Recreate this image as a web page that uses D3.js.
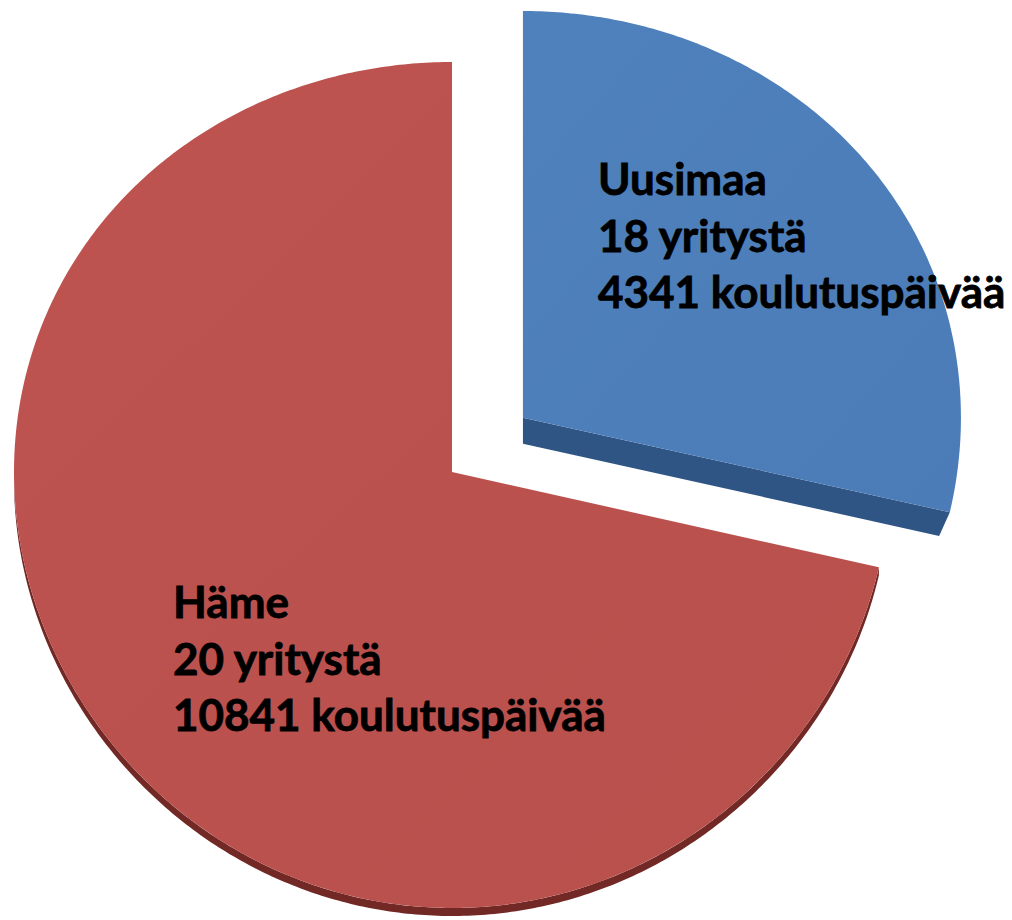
<!DOCTYPE html>
<html>
<head>
<meta charset="utf-8">
<script src="https://cdn.jsdelivr.net/npm/d3@7"></script>
<style>
  body { margin: 0; background: #fff; }
  .label { font-family: Lato, "Open Sans", sans-serif; font-weight: bold; fill: #000; stroke: #000; stroke-width: 0.8px; }
</style>
</head>
<body>
<div id="chart"></div>
<script>
// Data
const regions = ["Uusimaa", "Häme"];
const companies = [18, 20];
const trainingDays = [4341, 10841];
const labelLines = [
    ["Uusimaa", "18 yritystä", "4341 koulutuspäivää"],
    ["Häme", "20 yritystä", "10841 koulutuspäivää"]
];

const width = 1012, height = 920;
const cx = 452, cy = 472;        // pie apex
const RX = 438;                  // horizontal radius
const A = 423, B = 13;           // vertical mapping (slight perspective)
const explode = [0.207, 0];      // Uusimaa pulled out
const topColor = ["#4f81bd", "#be5350"];
const topColorDark = ["#4b7cb7", "#b8504c"];
const sideColor = ["#2f5585", "#722825"];
const sideDepth = [26, 8];
const showRim = [false, true];
const labelPos = [[598, 195], [173, 618]];
const lineGap = 56.5;

const svg = d3.select("#chart").append("svg")
    .attr("width", width)
    .attr("height", height);

const defs = svg.append("defs");
topColor.forEach((c, i) => {
    const g = defs.append("linearGradient")
        .attr("id", "grad" + i)
        .attr("x1", "0%").attr("y1", "0%")
        .attr("x2", "100%").attr("y2", "100%");
    g.append("stop").attr("offset", "0%").attr("stop-color", c);
    g.append("stop").attr("offset", "100%").attr("stop-color", topColorDark[i]);
});

const pie = d3.pie().sort(null).value(d => d);
const arcs = pie(trainingDays);

// unit-circle point -> screen
function proj(x, v, dy = 0) {
    return [cx + RX * x, cy + A * v + B * v * v + dy];
}
function pointAt(angle, r, off, dy) {
    return proj(off[0] + r * Math.sin(angle), off[1] - r * Math.cos(angle), dy);
}
function offsetOf(a, i) {
    const mid = (a.startAngle + a.endAngle) / 2;
    return [explode[i] * Math.sin(mid), -explode[i] * Math.cos(mid)];
}
function arcPoints(a0, a1, off, dy) {
    const n = Math.max(2, Math.ceil(Math.abs(a1 - a0) / 0.01));
    return d3.range(n + 1).map(k => pointAt(a0 + (a1 - a0) * k / n, 1, off, dy));
}

const line = d3.line().curve(d3.curveLinear);

// side faces (drawn first)
arcs.forEach((a, i) => {
    const off = offsetOf(a, i);
    const depth = sideDepth[i];
    // rim visible where it faces the viewer (between 90° and 270°)
    const r0 = Math.max(a.startAngle, Math.PI / 2);
    const r1 = Math.min(a.endAngle, 3 * Math.PI / 2);
    if (showRim[i] && r1 > r0) {
        const top = arcPoints(r0, r1, off, 0);
        const bot = arcPoints(r1, r0, off, depth);
        svg.append("path")
            .attr("d", line(top.concat(bot)) + "Z")
            .attr("fill", sideColor[i]);
    }
    // cut face along the end edge (faces the viewer for Uusimaa)
    if (a.endAngle < Math.PI) {
        const p0 = pointAt(0, 0, off, 0);
        const p1 = pointAt(a.endAngle, 1, off, 0);
        const p2 = pointAt(a.endAngle, 0.975, off, depth);
        const p3 = pointAt(0, 0, off, depth);
        svg.append("path")
            .attr("d", line([p0, p1, p2, p3]) + "Z")
            .attr("fill", sideColor[i]);
    }
});

// top faces
arcs.forEach((a, i) => {
    const off = offsetOf(a, i);
    const pts = [pointAt(0, 0, off, 0)].concat(arcPoints(a.startAngle, a.endAngle, off, 0));
    svg.append("path")
        .attr("d", line(pts) + "Z")
        .attr("fill", `url(#grad${i})`);
});

// labels
labelLines.forEach((lines, i) => {
    const t = svg.append("text")
        .attr("class", "label")
        .attr("font-size", 44)
        .attr("x", labelPos[i][0])
        .attr("y", labelPos[i][1]);
    lines.forEach((s, k) => {
        t.append("tspan")
            .attr("x", labelPos[i][0])
            .attr("y", labelPos[i][1] + k * lineGap)
            .text(s);
    });
});
</script>
</body>
</html>
